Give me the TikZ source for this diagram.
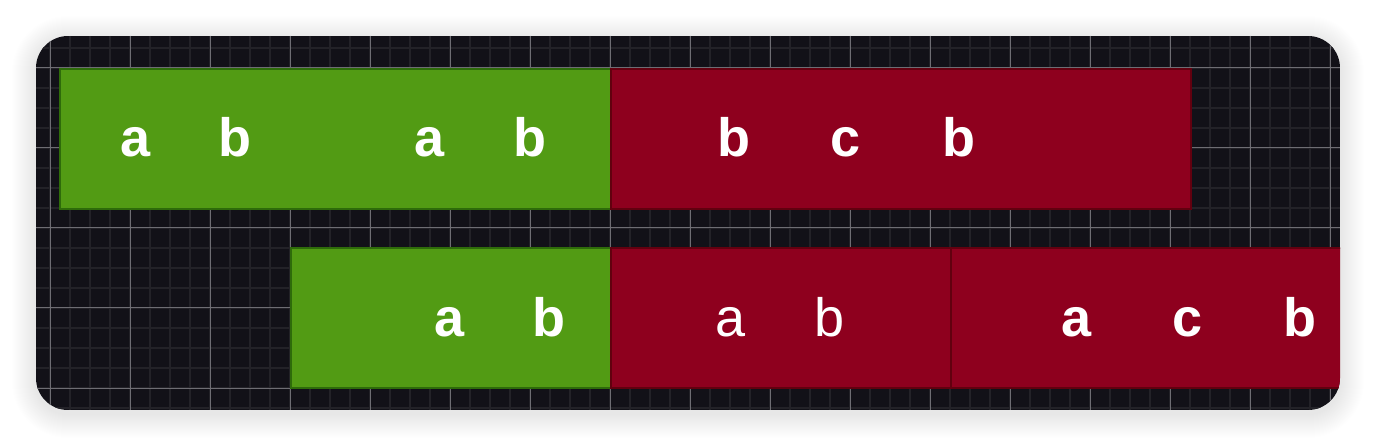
\documentclass[tikz,border=0pt]{standalone}
\usepackage{fontspec}
\setmainfont{Liberation Sans}
\usetikzlibrary{positioning}
\definecolor{boardbg}{HTML}{121118}
\definecolor{minorgrid}{HTML}{232228}
\definecolor{majorgrid}{HTML}{6E6D73}
\definecolor{greenfill}{HTML}{529B14}
\definecolor{greenline}{HTML}{2E6B0A}
\definecolor{redfill}{HTML}{8E001E}
\definecolor{redline}{HTML}{62000F}
\begin{document}
\begin{tikzpicture}[x=1pt, y=-1pt]
			\useasboundingbox[fill=white] (0,0) rectangle (1376,446);
			% soft shadow round the board
			\foreach \i in {1,...,24}{
				\pgfmathsetmacro{\rr}{32+\i}
				\fill[black, opacity=0.0045, rounded corners=\rr pt] (36-\i,40-\i) rectangle (1340+\i,414+\i);
			}
			\tikzstyle{cell}=[rectangle, line width=2pt, inner sep=0pt, outer sep=0pt, minimum height=140pt]
			\tikzstyle{greencell}=[cell, fill=greenfill, draw=greenline]
			\tikzstyle{redcell}=[cell, fill=redfill, draw=redline]
			\tikzstyle{letter}=[text=white, anchor=base, inner sep=0pt, font=\bfseries\fontsize{54}{62}\selectfont]
			\tikzstyle{thinletter}=[letter, font=\fontsize{54}{62}\selectfont]
			\begin{scope}
				\clip[rounded corners=32pt] (36,36) rectangle (1340,410);
				\fill[boardbg] (36,36) rectangle (1340,410);
				\foreach \x in {10,30,...,1370} \draw[minorgrid, line width=2pt] (\x,36) -- (\x,410);
				\foreach \y in {48,68,...,408} \draw[minorgrid, line width=2pt] (36,\y) -- (1340,\y);
				\foreach \x in {50,130,...,1330} \draw[majorgrid, line width=1pt] (\x,36) -- (\x,410);
				\foreach \y in {68,148,...,388} \draw[majorgrid, line width=1pt] (36,\y) -- (1340,\y);
				% top row
				\node[greencell, minimum width=551.5pt] (topgreen) at (335.25,139) {};
				\node[redcell, minimum width=579.5pt, anchor=west] (topred) at (topgreen.east) {};
				% bottom row
				\node[greencell, minimum width=320pt] (botgreen) at (451,318) {};
				\node[redcell, minimum width=340pt, anchor=west] (botred) at (botgreen.east) {};
				\node[redcell, minimum width=429pt, anchor=west] (botlast) at (botred.east) {};
			\end{scope}
			\node[letter] (ta1) at (136,157) {a};
			\node[letter] (tb1) at (235,157) {b};
			\node[letter] (ta2) at (430,157) {a};
			\node[letter] (tb2) at (530,157) {b};
			\node[letter] (tb3) at (734,157) {b};
			\node[letter] (tc1) at (846,157) {c};
			\node[letter] (tb4) at (959,157) {b};
			\node[letter] (ba1) at (450,337) {a};
			\node[letter] (bb1) at (549,337) {b};
			\node[thinletter] (ba2) at (731,337) {a};
			\node[thinletter] (bb2) at (830,337) {b};
			\node[letter] (ba3) at (1077,337) {a};
			\node[letter] (bc1) at (1188,337) {c};
			\node[letter] (bb3) at (1300,337) {b};
		\end{tikzpicture}
\end{document}
